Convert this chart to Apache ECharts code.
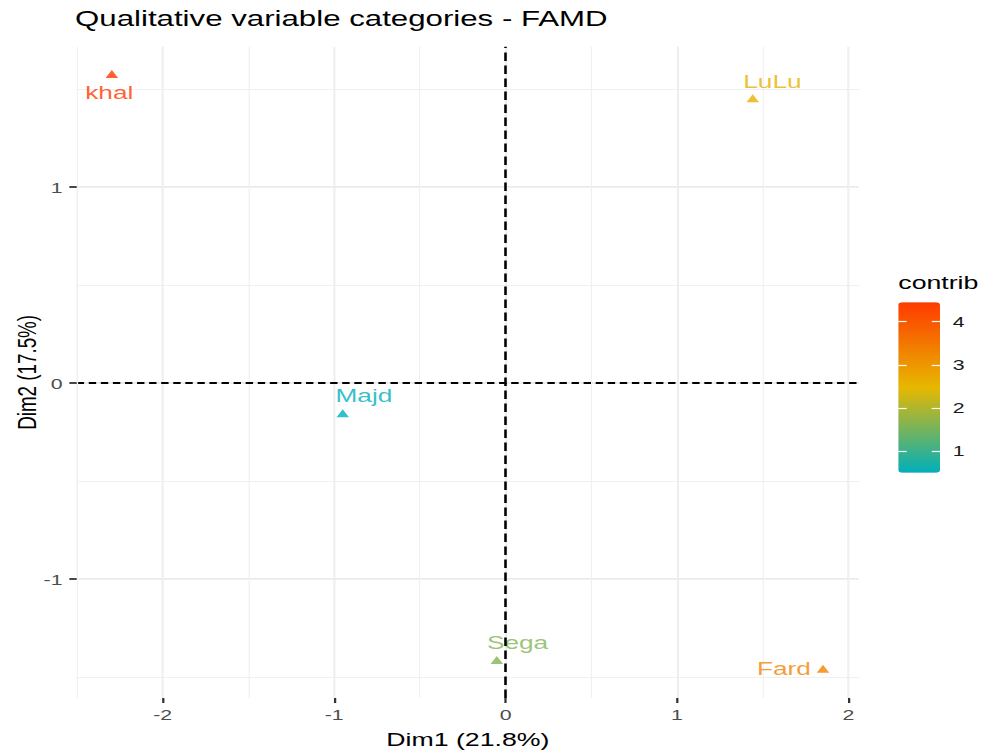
<!DOCTYPE html>
<html>
<head>
<meta charset="utf-8">
<script src="https://cdn.jsdelivr.net/npm/echarts@6/dist/echarts.min.js"></script>
<style>
html,body{margin:0;padding:0;background:#fff;overflow:hidden}
#wrap{width:984px;height:756px;overflow:hidden;position:relative}
#chart{width:693px;height:756px;transform:scaleX(1.4199134);transform-origin:0 0}
</style>
</head>
<body>
<div id="wrap"><div id="chart"></div></div>
<script>
// ---- data ----
const categories = ['khal', 'LuLu', 'Majd', 'Sega', 'Fard'];
const dim1 = [-2.297, 1.442, -0.950, -0.051, 1.852];
const dim2 = [1.578, 1.454, -0.153, -1.412, -1.457];
const contrib = [4.45, 2.6, 0.5, 1.6, 3.3];
const xTicks = [-2, -1, 0, 1, 2];
const yTicks = [-1, 0, 1];
const legendTicks = [1, 2, 3, 4];

// ---- layout / style ----
const S = 984 / 693;              // horizontal stretch of the reference picture
const px = v => v / S;            // screen x -> chart x
const FONT = "'Liberation Sans', Arial, Helvetica, sans-serif";
const xMin = -2.502, xMax = 2.062, yMin = -1.606, yMax = 1.717;
const cMin = 0.5, cMax = 4.45;
const labelOffset = {
  khal: [-1.8, 18.5],
  LuLu: [13.9, -17],
  Majd: [14.9, -17.5],
  Sega: [14.6, -17.2],
  Fard: [-27.5, -0.5]
};

// main panel
const L = px(76.7), T = 46.7, W = px(859 - 76.7), H = 698 - 46.7;
// colour bar
const BL = px(898.3), BT = 302.3, BW = px(940 - 898.3), BH = 472.7 - 302.3;

// sub-grids spanning exactly the tick ranges (so the axes' own ticks fall on the tick values)
const xt0 = xTicks[0], xt1 = xTicks[xTicks.length - 1];
const yt0 = yTicks[0], yt1 = yTicks[yTicks.length - 1];
const lt0 = legendTicks[0], lt1 = legendTicks[legendTicks.length - 1];
const xTickGrid = {left: L + (xt0 - xMin) / (xMax - xMin) * W, width: (xt1 - xt0) / (xMax - xMin) * W, top: T, height: H};
const yTickGrid = {left: L, width: W, top: T + (yMax - yt1) / (yMax - yMin) * H, height: (yt1 - yt0) / (yMax - yMin) * H};
const lTickGrid = {left: BL, width: BW, top: BT + (cMax - lt1) / (cMax - cMin) * BH, height: (lt1 - lt0) / (cMax - cMin) * BH};

const chart = echarts.init(document.getElementById('chart'), null, {renderer: 'svg', width: 693, height: 756});

const noLine = () => ({show: false, onZero: false});
const xMajorSplit = {show: true, showMinLine: false, showMaxLine: false, lineStyle: {color: '#EBEBEB', width: 1.4}};
const xMinorSplit = {show: true, showMinLine: false, showMaxLine: false, lineStyle: {color: '#F0F0F0', width: 0.8}};
const yMajorSplit = {show: true, showMinLine: false, showMaxLine: false, lineStyle: {color: '#EBEBEB', width: 2}};
const yMinorSplit = {show: true, showMinLine: false, showMaxLine: false, lineStyle: {color: '#F0F0F0', width: 1.1}};
const plain = (gridIndex, extra) => Object.assign({gridIndex, type: 'value', show: false, axisLine: noLine()}, extra || {});

const grids = [
  {left: L, top: T, width: W, height: H},
  {left: BL, top: BT, width: BW, height: BH},
  xTickGrid, yTickGrid, lTickGrid
].map(g => Object.assign({containLabel: false, outerBoundsMode: 'none'}, g));

const option = {
  animation: false,
  backgroundColor: '#ffffff',
  textStyle: {fontFamily: FONT},
  title: {
    text: 'Qualitative variable categories - FAMD',
    left: px(75), top: 8, padding: 0,
    textStyle: {fontSize: 22, fontWeight: 'normal', color: '#000', fontFamily: FONT}
  },
  grid: grids,
  xAxis: [
    { // 0: main, major grid lines + title
      gridIndex: 0, type: 'value', position: 'bottom', min: xMin, max: xMax,
      minInterval: 1, maxInterval: 1,
      axisLine: noLine(), axisTick: {show: false}, axisLabel: {show: false},
      splitLine: xMajorSplit,
      name: 'Dim1 (21.8%)', nameLocation: 'middle', nameGap: 32, nameMoveOverlap: false,
      nameTextStyle: {fontSize: 18.8, color: '#000', fontFamily: FONT}
    },
    { // 1: main, minor grid lines
      gridIndex: 0, type: 'value', position: 'top', min: xMin, max: xMax,
      minInterval: 0.5, maxInterval: 0.5,
      axisLine: noLine(), axisTick: {show: false}, axisLabel: {show: false},
      splitLine: xMinorSplit
    },
    plain(1, {min: 0, max: 1}),
    { // 3: tick marks + tick labels
      gridIndex: 2, type: 'value', position: 'bottom', min: xt0, max: xt1, interval: 1, z: 5,
      axisLine: {show: true, onZero: false, lineStyle: {color: '#FFFFFF', width: 1}},
      axisTick: {show: true, length: 5, lineStyle: {color: '#333333', width: 1.6}},
      axisLabel: {show: true, margin: 9, fontSize: 15, color: '#4D4D4D', fontFamily: FONT},
      splitLine: {show: false}
    },
    plain(3, {min: xMin, max: xMax}),
    plain(4, {min: 0, max: 1})
  ],
  yAxis: [
    { // 0: main, major grid lines + title
      gridIndex: 0, type: 'value', position: 'left', min: yMin, max: yMax,
      minInterval: 1, maxInterval: 1,
      axisLine: noLine(), axisTick: {show: false}, axisLabel: {show: false},
      splitLine: yMajorSplit,
      name: 'Dim2 (17.5%)', nameLocation: 'middle', nameGap: 26, nameRotate: 90, nameMoveOverlap: false,
      nameTextStyle: {fontSize: 18.8, color: '#000', fontFamily: FONT}
    },
    { // 1: main, minor grid lines
      gridIndex: 0, type: 'value', position: 'right', min: yMin, max: yMax,
      minInterval: 0.5, maxInterval: 0.5,
      axisLine: noLine(), axisTick: {show: false}, axisLabel: {show: false},
      splitLine: yMinorSplit
    },
    plain(1, {min: cMin, max: cMax}),
    plain(2, {min: yMin, max: yMax}),
    { // 4: tick marks + tick labels
      gridIndex: 3, type: 'value', position: 'left', min: yt0, max: yt1, interval: 1, z: 5,
      axisLine: {show: true, onZero: false, lineStyle: {color: '#F0F0F0', width: 1.1}},
      axisTick: {show: true, length: 5.2, lineStyle: {color: '#333333', width: 1.8}},
      axisLabel: {show: true, margin: 10, fontSize: 15, color: '#4D4D4D', fontFamily: FONT},
      splitLine: {show: false}
    },
    { // 5: colour bar ticks (right) + labels
      gridIndex: 4, type: 'value', position: 'right', min: lt0, max: lt1, interval: 1, z: 10,
      axisLine: {show: true, onZero: false, lineStyle: {color: 'rgba(255,255,255,0.01)', width: 1}},
      axisTick: {show: true, inside: true, length: px(8.3), lineStyle: {color: '#FFFFFF', width: 1.2}},
      axisLabel: {show: true, margin: 9, fontSize: 15, color: '#1A1A1A', fontFamily: FONT},
      splitLine: {show: false}
    },
    { // 6: colour bar ticks (left)
      gridIndex: 4, type: 'value', position: 'left', min: lt0, max: lt1, interval: 1, z: 10,
      axisLine: {show: true, onZero: false, lineStyle: {color: 'rgba(255,255,255,0.01)', width: 1}},
      axisTick: {show: true, inside: true, length: px(8.3), lineStyle: {color: '#FFFFFF', width: 1.2}},
      axisLabel: {show: false},
      splitLine: {show: false}
    }
  ],
  visualMap: {
    type: 'continuous', seriesIndex: 0, dimension: 2,
    min: cMin, max: cMax, calculable: false, hoverLink: false,
    orient: 'vertical', left: BL, top: BT, padding: 0,
    itemWidth: BW, itemHeight: BH,
    text: null,
    inRange: {color: ['#00AFBB', '#E7B800', '#FF3A00']}
  },
  graphic: [
    {
      type: 'text', left: BL, top: 272.5, z: 20,
      style: {text: 'contrib', fontSize: 18.8, fontWeight: 'normal', fill: '#000', fontFamily: FONT}
    }
  ],
  series: [
    {
      type: 'scatter', xAxisIndex: 0, yAxisIndex: 0,
      symbol: 'triangle', symbolSize: [px(12.5), 8],
      data: categories.map((name, i) => ({
        name: name,
        value: [dim1[i], dim2[i], contrib[i]],
        label: {offset: labelOffset[name]}
      })),
      label: {
        show: true, position: 'inside', formatter: '{b}',
        fontSize: 18.5, color: 'inherit', textBorderWidth: 0, fontFamily: FONT
      },
      emphasis: {disabled: true},
      markLine: {
        silent: true, symbol: ['none', 'none'], animation: false,
        label: {show: false},
        emphasis: {disabled: true},
        lineStyle: {color: '#000', width: 1.8},
        data: [
          {xAxis: 0, lineStyle: {color: '#000', width: 1.8, type: [8.5, 4.5]}},
          {yAxis: 0, lineStyle: {color: '#000', width: 2, type: [5.2, 3.3]}}
        ]
      }
    }
  ]
};
chart.setOption(option);
</script>
</body>
</html>
